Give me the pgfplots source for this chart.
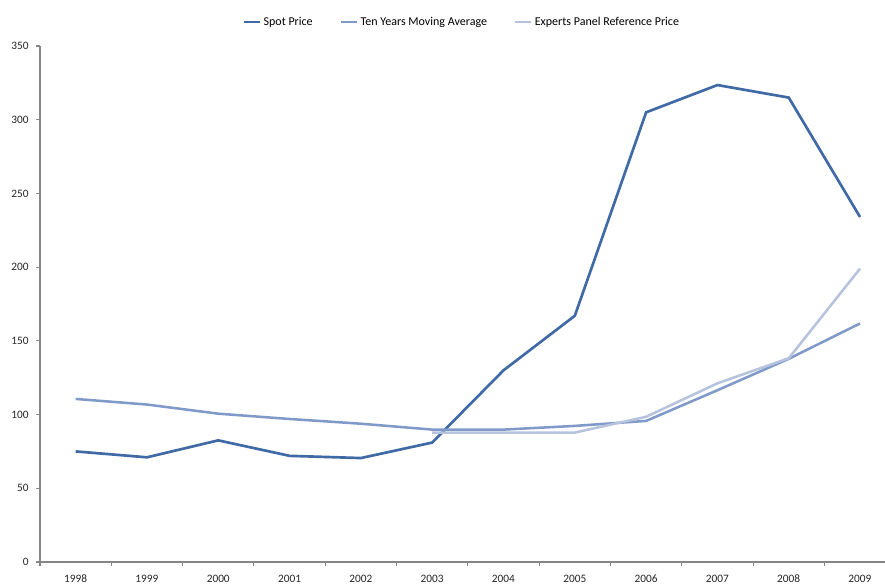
\documentclass[border=0pt]{standalone}
\usepackage{pgfplots}
\pgfplotsset{compat=1.18}
\usepackage{fontspec}
\setmainfont{Carlito}
\definecolor{spot}{RGB}{64,106,166}
\definecolor{movavg}{RGB}{127,154,200}
\definecolor{experts}{RGB}{182,195,221}
\definecolor{axgray}{RGB}{134,134,134}
\begin{document}
\begin{tikzpicture}
\begin{axis}[
    scale only axis,
    width=633.75pt, height=387pt,
    xmin=1997.5, xmax=2009.35,
    ymin=0, ymax=350,
    axis lines*=left,
    axis line style={axgray, line width=0.8pt},
    xtick={1998,...,2009},
    minor xtick={1997.5,1998.5,...,2009.5},
    ytick={0,50,...,350},
    tick align=outside,
    major x tick style={draw=none},
    minor x tick style={axgray, line width=0.8pt},
    y tick style={axgray, line width=0.8pt},
    major tick length=3pt,
    minor tick length=3pt,
    x tick label style={/pgf/number format/1000 sep={}},
    tick label style={font=\fontsize{8.5}{10}\selectfont, text=black!85},
    /pgf/number format/assume math mode=true,
    xticklabel style={yshift=-3pt},
    yticklabel style={xshift=-2pt},
    legend columns=3,
    legend style={at={(rel axis cs:0.4994,1.0465)}, anchor=center, draw=none,
        font=\fontsize{9}{10}\selectfont,
        /tikz/every even column/.append style={column sep=18pt}},
    legend image code/.code={\draw[#1] (0pt,0pt) -- (12pt,0pt);},
]
\addplot[spot, line width=2pt] coordinates {
    (1998,75) (1999,71) (2000,82.5) (2001,72) (2002,70.5) (2003,81)
    (2004,130) (2005,167) (2006,305) (2007,323.5) (2008,315) (2009,234)
};
\addlegendentry{Spot Price}
\addplot[movavg, line width=1.9pt] coordinates {
    (1998,110.6) (1999,106.8) (2000,100.6) (2001,97) (2002,93.8) (2003,89.8)
    (2004,89.8) (2005,92.3) (2006,95.7) (2007,116.5) (2008,137.8) (2009,161.8)
};
\addlegendentry{Ten Years Moving Average}
\addplot[experts, line width=1.9pt] coordinates {
    (2003,87.8) (2004,87.8) (2005,87.8) (2006,98.5) (2007,121.2) (2008,138.2) (2009,199)
};
\addlegendentry{Experts Panel Reference Price}
\end{axis}
\pgfresetboundingbox
\useasboundingbox (-30pt,-16.5pt) rectangle (633.75pt,421.5pt);
\end{tikzpicture}
\end{document}
